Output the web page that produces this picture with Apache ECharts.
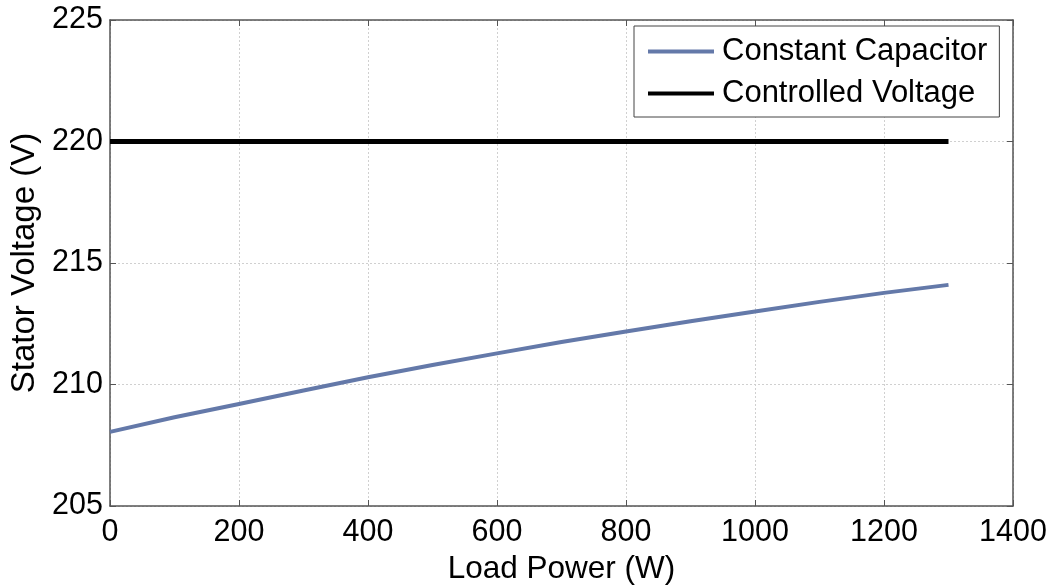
<!DOCTYPE html>
<html>
<head>
<meta charset="utf-8">
<script src="https://cdn.jsdelivr.net/npm/echarts@6/dist/echarts.min.js"></script>
<style>
  html, body { margin: 0; padding: 0; background: #fff; }
  #chart { width: 1052px; height: 586px; }
</style>
</head>
<body>
<div id="chart"></div>
<script>
// Load power (W) sample points
const loadPower = [0, 100, 200, 300, 400, 500, 600, 700, 800, 900, 1000, 1100, 1200, 1300];
// Stator voltage with a fixed excitation capacitor (V)
const constantCapacitor = [208.05, 208.65, 209.2, 209.75, 210.3, 210.8, 211.28, 211.75, 212.18, 212.6, 213.0, 213.4, 213.77, 214.1];
// Stator voltage under voltage control (V)
const controlledVoltage = [220, 220, 220, 220, 220, 220, 220, 220, 220, 220, 220, 220, 220, 220];
const seriesNames = ['Constant Capacitor', 'Controlled Voltage'];

const font = '"Liberation Sans", Arial, sans-serif';
const frameColor = '#555';
const gridStyle = { show: true, lineStyle: { color: '#d0d0d0', type: [2, 2], width: 1 } };

const pairs = (xs, ys) => xs.map((x, i) => [x, ys[i]]);

const chart = echarts.init(document.getElementById('chart'), null, { renderer: 'canvas' });
chart.setOption({
  animation: false,
  backgroundColor: '#fff',
  grid: { left: 110, right: 39, top: 20, bottom: 80, outerBoundsMode: 'none', containLabel: false },
  legend: {
    orient: 'vertical',
    left: 634,
    top: 26,
    padding: [10, 12, 8, 14],
    itemGap: 11,
    itemWidth: 66,
    itemHeight: 4,
    icon: 'rect',
    borderColor: '#444',
    borderWidth: 1,
    backgroundColor: '#fff',
    data: seriesNames,
    textStyle: { fontFamily: font, fontSize: 31, color: '#000', padding: [0, 0, 0, 3], lineHeight: 31 }
  },
  xAxis: [
    {
      type: 'value', min: 0, max: 1400, interval: 200,
      name: 'Load Power (W)', nameLocation: 'middle', nameGap: 45,
      nameTextStyle: { fontFamily: font, fontSize: 31.5, color: '#000' },
      axisLine: { show: true, lineStyle: { color: frameColor, width: 1.5 } },
      axisTick: { show: true, inside: true, length: 6, lineStyle: { color: frameColor } },
      axisLabel: { fontFamily: font, fontSize: 30.5, color: '#000', margin: 11, formatter: v => String(v) },
      splitLine: gridStyle
    },
    {
      type: 'value', position: 'top', min: 0, max: 1400, interval: 200,
      axisLine: { show: true, onZero: false, lineStyle: { color: frameColor, width: 1.5 } },
      axisTick: { show: true, inside: true, length: 6, lineStyle: { color: frameColor } },
      axisLabel: { show: false },
      splitLine: { show: false }
    }
  ],
  yAxis: [
    {
      type: 'value', min: 205, max: 225, interval: 5,
      name: 'Stator Voltage (V)', nameLocation: 'middle', nameGap: 65,
      nameTextStyle: { fontFamily: font, fontSize: 33, color: '#000' },
      axisLine: { show: true, lineStyle: { color: frameColor, width: 1.5 } },
      axisTick: { show: true, inside: true, length: 6, lineStyle: { color: frameColor } },
      axisLabel: { fontFamily: font, fontSize: 30.5, color: '#000', margin: 7 },
      splitLine: gridStyle
    },
    {
      type: 'value', position: 'right', min: 205, max: 225, interval: 5,
      axisLine: { show: true, onZero: false, lineStyle: { color: frameColor, width: 1.5 } },
      axisTick: { show: true, inside: true, length: 6, lineStyle: { color: frameColor } },
      axisLabel: { show: false },
      splitLine: { show: false }
    }
  ],
  series: [
    {
      name: seriesNames[0], type: 'line', symbol: 'none',
      data: pairs(loadPower, constantCapacitor),
      itemStyle: { color: '#6479a9' },
      lineStyle: { color: '#6479a9', width: 4 },
      z: 3
    },
    {
      name: seriesNames[1], type: 'line', symbol: 'none',
      data: pairs(loadPower, controlledVoltage),
      itemStyle: { color: '#000' },
      lineStyle: { color: '#000', width: 5 },
      z: 3
    }
  ]
});
</script>
</body>
</html>
